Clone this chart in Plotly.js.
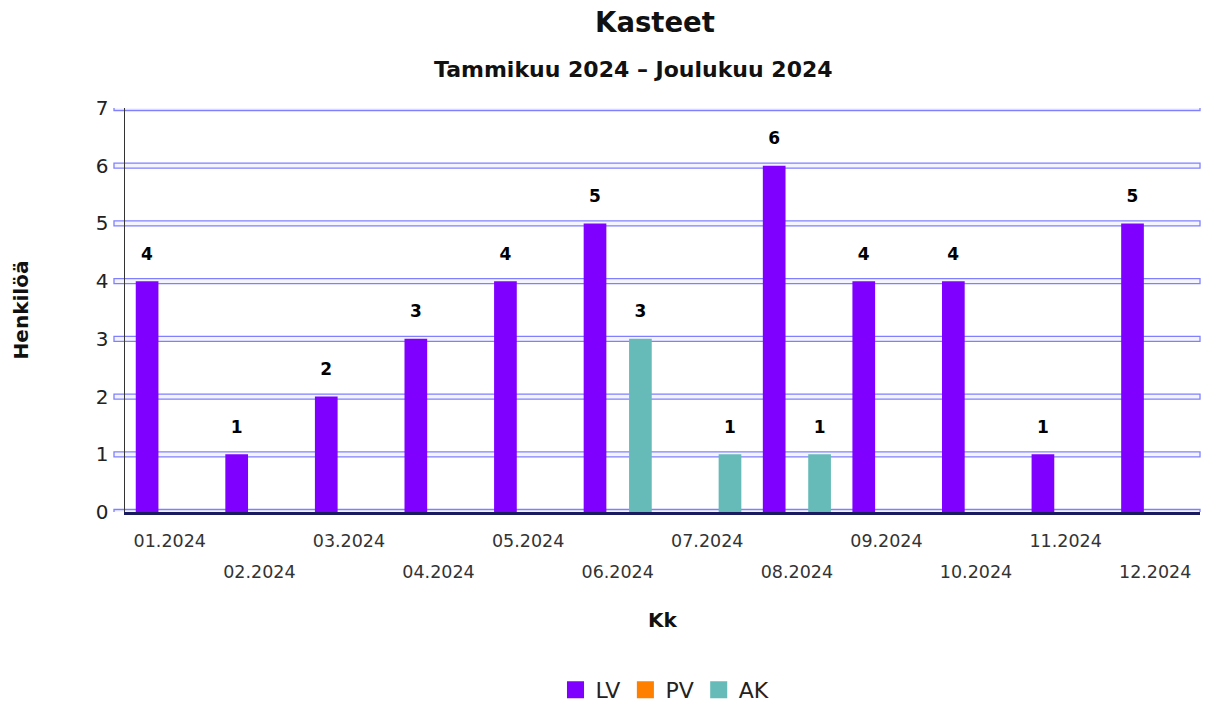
<!DOCTYPE html>
<html>
<head>
<meta charset="utf-8">
<script src="https://cdn.plot.ly/plotly-3.0.1.min.js"></script>
<style>html,body{margin:0;padding:0;background:#fff;}#chart{width:1206px;height:707px;}</style>
</head>
<body>
<div id="chart"></div>
<script>
const months = ['01.2024','02.2024','03.2024','04.2024','05.2024','06.2024','07.2024','08.2024','09.2024','10.2024','11.2024','12.2024'];
const LV = [4,1,2,3,4,5,0,6,4,4,1,5];
const PV = [0,0,0,0,0,0,0,0,0,0,0,0];
const AK = [0,0,0,0,0,3,1,1,0,0,0,0];
const seriesNames = ['LV','PV','AK'];
const seriesColors = ['#7f00ff','#ff7f00','#66bbb8'];
const yTicks = [0,1,2,3,4,5,6,7];

const FONT = 'DejaVu Sans, Verdana, sans-serif';
const oddMonths = months.filter((m,i)=>i%2===0);
const evenMonths = months.filter((m,i)=>i%2===1);

const traces = [LV,PV,AK].map((vals,i)=>({
  type:'bar', name:seriesNames[i], x:months, y:vals,
  marker:{color:seriesColors[i]},
  text: vals.map(v=> v ? String(v) : ''),
  texttemplate:'<span style="font-size:17px"><b>%{text}</b></span><br> ',
  textposition:'outside', constraintext:'none', cliponaxis:false,
  textfont:{family:FONT,size:12,color:'#000'},
  hoverinfo:'x+y'
}));

// double-line gridlines built from the y tick values
const gridShapes = yTicks.map(v=>({
  type:'rect', layer:'below', xref:'paper', yref:'y',
  x0:-11/1075, x1:1, ysizemode:'pixel', yanchor:v, y0:-2.5, y1:2.5,
  fillcolor:'#f4f4ff', line:{color:'#8080ff', width:1.3}
}));

const layout = {
  width:1206, height:707,
  margin:{l:125,r:6,t:108,b:195},
  paper_bgcolor:'#fff', plot_bgcolor:'rgba(0,0,0,0)',
  font:{family:FONT,color:'#222'},
  barmode:'group', bargap:0.24, bargroupgap:0,
  title:{text:'<b>Kasteet</b>', font:{family:FONT,size:27.5,color:'#111'},
         x:655/1206, xanchor:'center', xref:'container',
         y:1-22/707, yanchor:'middle', yref:'container'},
  annotations:[{text:'<b>Tammikuu 2024 – Joulukuu 2024</b>', xref:'paper', yref:'paper',
    x:(633-125)/1075, y:(512-70)/404, xanchor:'center', yanchor:'middle', showarrow:false,
    font:{family:FONT,size:22,color:'#111'}}],
  shapes:gridShapes,
  xaxis:{type:'category', range:[-0.5,11.5], autorange:false, tickvals:oddMonths, ticktext:oddMonths,
    showgrid:false, automargin:false,
    showline:true, linecolor:'#1a1a5e', linewidth:3, ticks:'', ticklabelstandoff:11,
    tickfont:{family:FONT,size:17.5,color:'#333'}, fixedrange:true},
  xaxis2:{type:'category', matches:'x', overlaying:'x', anchor:'y', side:'bottom', automargin:false,
    tickvals:evenMonths, ticktext:evenMonths, showgrid:false, showline:false, ticks:'',
    ticklabelstandoff:47, tickfont:{family:FONT,size:17.5,color:'#333'},
    title:{text:'<b>Kk</b>', font:{family:FONT,size:20,color:'#111'}, standoff:32}},
  yaxis:{range:[0,7], autorange:false, tickvals:yTicks, showgrid:false, automargin:false,
    zeroline:false, showline:true, linecolor:'#333', linewidth:1.5,
    ticks:'outside', ticklen:11, tickwidth:0.01, tickcolor:'rgba(0,0,0,0)',
    tickfont:{family:FONT,size:20,color:'#222'},
    title:{text:'<b>Henkilöä</b>', font:{family:FONT,size:20,color:'#111'}, standoff:62}},
  showlegend:true,
  legend:{orientation:'h', xref:'container', yref:'container', x:665/1206, xanchor:'center',
    y:1-690/707, yanchor:'middle', itemwidth:30,
    font:{family:FONT,size:22,color:'#222'}, traceorder:'normal'}
};

traces.push({type:'scatter', x:[months[0]], y:[0], xaxis:'x2', yaxis:'y', mode:'markers',
  marker:{opacity:0}, showlegend:false, hoverinfo:'skip'});

Plotly.newPlot('chart', traces, layout, {displayModeBar:false, staticPlot:true}).then(gd=>{
  gd.querySelectorAll('.legend .legendpoints path').forEach(p=>{
    p.setAttribute('transform','translate(20,0) scale(1.42)');
  });
});
</script>
</body>
</html>
